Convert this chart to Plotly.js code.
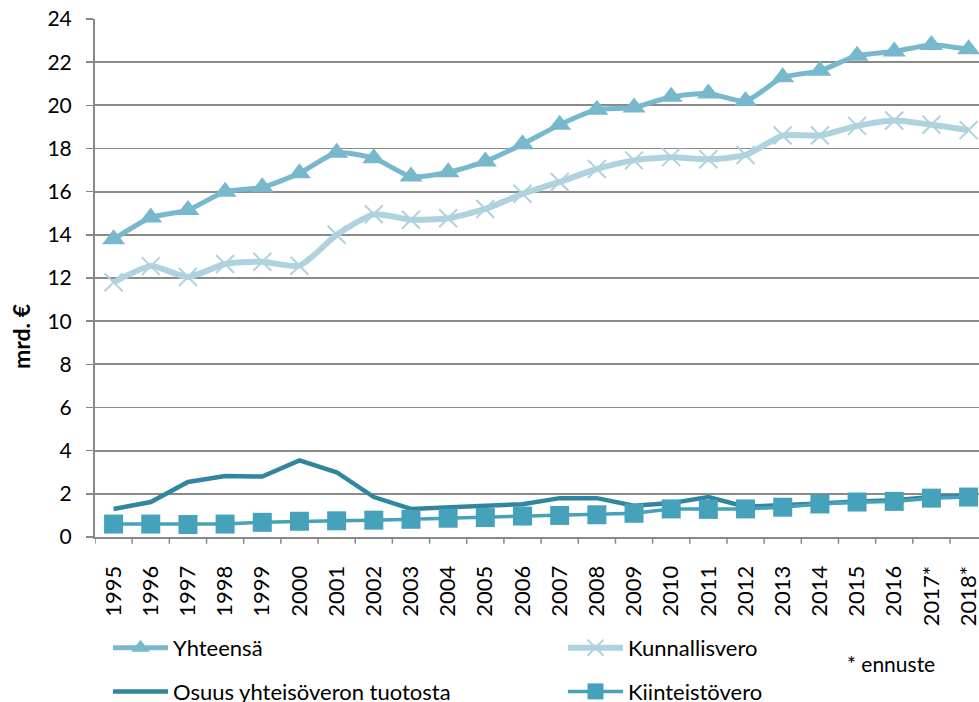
<!DOCTYPE html>
<html>
<head>
<meta charset="utf-8">
<script src="https://cdn.plot.ly/plotly-3.0.1.min.js"></script>
<style>html,body{margin:0;padding:0;background:#fff;}#chart{width:979px;height:702px;}</style>
</head>
<body>
<div id="chart"></div>
<script>
var years = ["1995","1996","1997","1998","1999","2000","2001","2002","2003","2004","2005","2006","2007","2008","2009","2010","2011","2012","2013","2014","2015","2016","2017*","2018*"];
var yhteensa = [13.8,14.8,15.15,16.0,16.2,16.85,17.8,17.55,16.7,16.9,17.4,18.2,19.1,19.8,19.9,20.4,20.55,20.2,21.3,21.6,22.3,22.5,22.8,22.6];
var kunnallisvero = [11.8,12.55,12.05,12.65,12.75,12.57,14.0,14.95,14.7,14.77,15.2,15.9,16.45,17.05,17.45,17.6,17.5,17.7,18.6,18.6,19.05,19.3,19.1,18.85];
var osuus = [1.3,1.62,2.55,2.83,2.8,3.55,3.0,1.85,1.3,1.35,1.45,1.52,1.8,1.8,1.45,1.57,1.85,1.4,1.45,1.55,1.65,1.7,1.85,1.9];
var kiinteisto = [0.6,0.6,0.58,0.6,0.68,0.73,0.75,0.78,0.82,0.87,0.9,0.97,1.0,1.03,1.1,1.3,1.28,1.3,1.38,1.53,1.62,1.65,1.8,1.85];
var yTicks = [0,2,4,6,8,10,12,14,16,18,20,22,24];

var FONT = "Lato, 'Open Sans', sans-serif";
var idx = years.map(function(_, i){ return i; });

var traces = [
  {name:"Yhteensä", legend:"legend", legendgroup:"a", x:idx, y:yhteensa, type:"scatter", mode:"lines+markers",
   line:{color:"#78B8CD", width:5, shape:"spline", smoothing:0.6},
   marker:{symbol:"triangle-up", size:20, color:"#78B8CD"}, cliponaxis:false},
  {name:"Kunnallisvero", legend:"legend2", legendgroup:"b", x:idx, y:kunnallisvero, type:"scatter", mode:"lines+markers",
   line:{color:"#AED3DE", width:6, shape:"spline", smoothing:0.6},
   marker:{symbol:"x-thin", size:18, color:"#AED3DE", line:{color:"#AED3DE", width:2}}, cliponaxis:false},
  {name:"Osuus yhteisöveron tuotosta", legend:"legend", legendgroup:"c", x:idx, y:osuus, type:"scatter", mode:"lines",
   line:{color:"#31869F", width:4.5}},
  {name:"Kiinteistövero", legend:"legend2", legendgroup:"d", x:idx, y:kiinteisto, type:"scatter", mode:"lines+markers",
   line:{color:"#46A1BA", width:3.5},
   marker:{symbol:"square", size:19, color:"#46A1BA"}, cliponaxis:false}
];

var legendBase = {
  orientation:"v", xanchor:"left", xref:"paper",
  yref:"container", y:1 - 627/702, yanchor:"top",
  font:{family:FONT, size:22, color:"#000"},
  itemwidth:55, tracegroupgap:12, bgcolor:"rgba(0,0,0,0)", borderwidth:0
};
var legend1 = Object.assign({}, legendBase, {x:(108-95)/884});
var legend2 = Object.assign({}, legendBase, {x:(563-95)/884});

var layout = {
  width:979, height:702,
  margin:{l:95, r:0, t:19, b:165, pad:0, autoexpand:false},
  paper_bgcolor:"#fff", plot_bgcolor:"#fff",
  font:{family:FONT, size:21, color:"#000"},
  showlegend:true,
  xaxis:{
    range:[-0.5, 23.28],
    tickmode:"array", tickvals:idx, ticktext:years,
    tickangle:-90, tickfont:{family:FONT, size:22, color:"#000"},
    showgrid:false, zeroline:false,
    showline:true, linecolor:"#888", linewidth:2,
    ticks:"", ticklabelstandoff:18, ticklabeloverflow:"allow", fixedrange:true
  },
  yaxis:{
    range:[0,24], tickmode:"array", tickvals:yTicks,
    tickfont:{family:FONT, size:21, color:"#000"},
    showgrid:true, gridcolor:"#8a8a8a", gridwidth:1.8,
    zeroline:false, showline:true, linecolor:"#888", linewidth:2,
    ticks:"outside", ticklen:7, tickcolor:"#888", tickwidth:1.5,
    ticklabelstandoff:10
  },
  legend:legend1,
  legend2:legend2,
  shapes: idx.concat([24]).map(function(i){
    return {type:"line", xref:"x", yref:"paper", x0:i-0.5, x1:i-0.5, y0:0, y1:-0.013,
            line:{color:"#888", width:1.5}};
  }),
  annotations:[
    {text:"<b>mrd. €</b>", xref:"paper", yref:"paper", x:(21-95)/884, y:(537-337)/518,
     xanchor:"center", yanchor:"middle", textangle:-90,
     showarrow:false, font:{family:FONT, size:23, color:"#000"}},
    {text:"* ennuste", xref:"paper", yref:"paper", x:(845-95)/884, y:-0.245, xanchor:"left", yanchor:"middle",
     showarrow:false, font:{family:FONT, size:21, color:"#000"}}
  ]
};

Plotly.newPlot("chart", traces, layout, {staticPlot:true, displayModeBar:false});
</script>
</body>
</html>
